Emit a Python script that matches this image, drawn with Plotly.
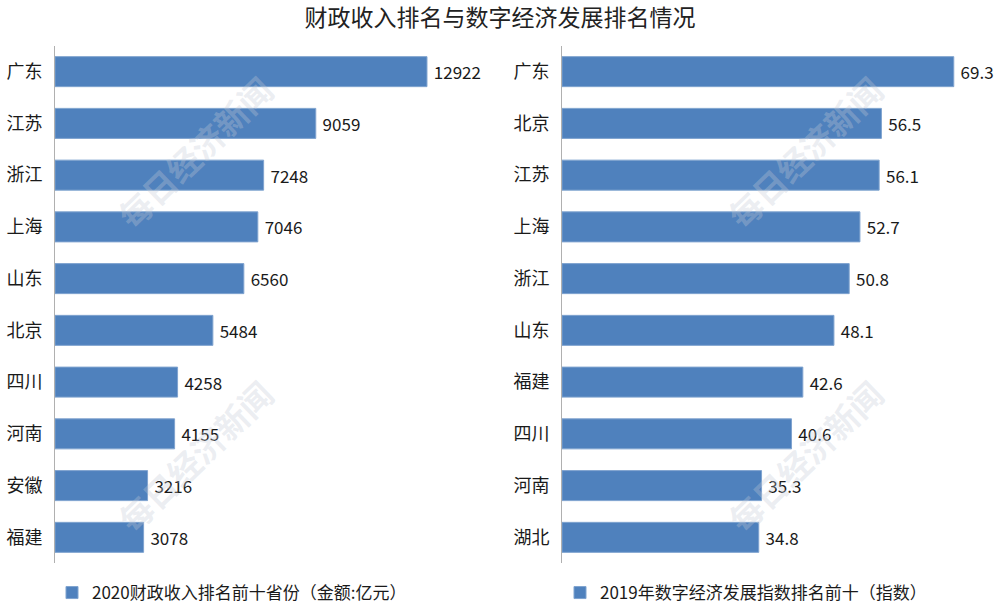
import plotly.graph_objects as go

# Data
provinces_fiscal = ["广东", "江苏", "浙江", "上海", "山东", "北京", "四川", "河南", "安徽", "福建"]
fiscal_values = [12922, 9059, 7248, 7046, 6560, 5484, 4258, 4155, 3216, 3078]
fiscal_name = "2020财政收入排名前十省份（金额:亿元）"

provinces_digital = ["广东", "北京", "江苏", "上海", "浙江", "山东", "福建", "四川", "河南", "湖北"]
digital_values = [69.3, 56.5, 56.1, 52.7, 50.8, 48.1, 42.6, 40.6, 35.3, 34.8]
digital_name = "2019年数字经济发展指数排名前十（指数）"

title_text = "财政收入排名与数字经济发展排名情况"
watermark = "每日经济新闻"

FONT = "Noto Sans CJK SC"
BAR_COLOR = "#4F81BD"
TEXT_COLOR = "#1a1a1a"
NBSP = "\u00a0"

fig = go.Figure()

fig.add_trace(go.Bar(
    y=provinces_fiscal, x=fiscal_values, orientation="h",
    name=fiscal_name, marker=dict(color=BAR_COLOR, line=dict(color="#7fa3cf", width=1)),
    text=[NBSP + str(v) for v in fiscal_values], textposition="outside",
    textfont=dict(family=FONT, size=17, color=TEXT_COLOR),
    cliponaxis=False, xaxis="x", yaxis="y", legend="legend",
))
fig.add_trace(go.Bar(
    y=provinces_digital, x=digital_values, orientation="h",
    name=digital_name, marker=dict(color=BAR_COLOR, line=dict(color="#7fa3cf", width=1)),
    text=[NBSP + f"{v:.1f}" for v in digital_values], textposition="outside",
    textfont=dict(family=FONT, size=17, color=TEXT_COLOR),
    cliponaxis=False, xaxis="x2", yaxis="y2", legend="legend2",
))

ydom = [1 - 566 / 611, 1 - 46 / 611]
xaxis_common = dict(showgrid=False, zeroline=False, showticklabels=False, ticks="", showline=False)
yaxis_common = dict(showgrid=False, zeroline=False, showline=True, linecolor="#b0b0b0", linewidth=1,
                    ticks="", autorange="reversed", ticklabelstandoff=8,
                    tickfont=dict(family=FONT, size=18, color=TEXT_COLOR))

fig.update_layout(
    width=1000, height=611,
    margin=dict(l=0, r=0, t=0, b=0),
    paper_bgcolor="white", plot_bgcolor="white",
    font=dict(family=FONT, color=TEXT_COLOR),
    bargap=0.42,
    title=dict(text=title_text, x=0.5, xanchor="center", y=1 - 18 / 611, yanchor="middle",
               font=dict(family=FONT, size=23, color="#222222")),
    xaxis=dict(domain=[0.055, 0.458], range=[0, 14000], anchor="y", **xaxis_common),
    yaxis=dict(domain=ydom, anchor="x", **yaxis_common),
    xaxis2=dict(domain=[0.562, 0.986], range=[0, 75], anchor="y2", **xaxis_common),
    yaxis2=dict(domain=ydom, anchor="x2", **yaxis_common),
    legend=dict(x=0.052, y=1 - 596 / 611, xanchor="left", yanchor="middle", orientation="h",
                font=dict(family=FONT, size=17, color=TEXT_COLOR), bgcolor="rgba(0,0,0,0)"),
    legend2=dict(x=0.560, y=1 - 596 / 611, xanchor="left", yanchor="middle", orientation="h",
                 font=dict(family=FONT, size=17, color=TEXT_COLOR), bgcolor="rgba(0,0,0,0)"),
    showlegend=True,
)

for cx, cy in [(195, 153), (195, 458), (805, 153), (805, 458)]:
    fig.add_annotation(
        text=watermark, x=cx / 1000, y=1 - cy / 611, xref="paper", yref="paper",
        xanchor="center", yanchor="middle",
        showarrow=False, textangle=-44,
        font=dict(family=FONT, size=33, color="rgba(195,202,214,0.33)", weight="bold"),
    )

fig.write_html("out.html", config={"displayModeBar": False},
               post_script="document.body.style.margin='0';")
